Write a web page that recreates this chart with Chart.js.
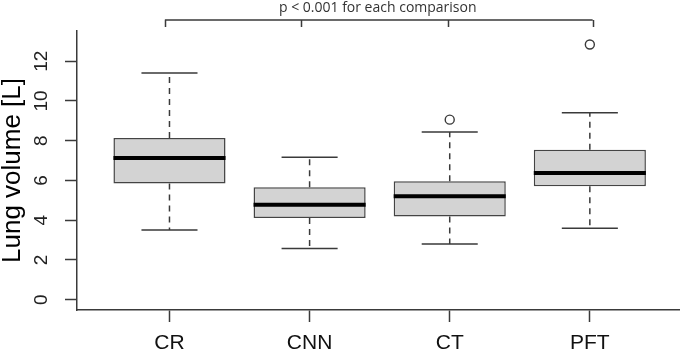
<!DOCTYPE html>
<html>
<head>
<meta charset="utf-8">
<script src="https://cdn.jsdelivr.net/npm/chart.js@4/dist/chart.umd.min.js"></script>
<style>
  html, body { margin: 0; padding: 0; background: #fff; }
  canvas { display: block; }
</style>
</head>
<body>
<canvas id="boxChart" width="685" height="352"></canvas>
<script>
// box plot values (litres)
const categories = ['CR', 'CNN', 'CT', 'PFT'];
const whiskerLow = [3.51, 2.57, 2.80, 3.59];
const lowerQuartile = [5.84, 4.11, 4.19, 5.71];
const medians = [7.13, 4.78, 5.20, 6.38];
const upperQuartile = [8.14, 5.66, 5.96, 7.54];
const whiskerHigh = [11.41, 7.17, 8.44, 9.40];
const outliers = [[], [], [9.06], [12.84]];
const yTicks = [0, 2, 4, 6, 8, 10, 12];
// significance bracket (x positions in category units)
const bracketTicks = [0.967, 1.936, 2.99, 4.02];
const bracketLabel = 'p < 0.001 for each comparison';

const lineColor = '#3a3a3a';

const boxData = categories.map((c, i) => ({ x: i + 1, y: [lowerQuartile[i], upperQuartile[i]] }));

const whiskerData = [];
const capData = [];
const medianData = [];
const outlierData = [];
categories.forEach((c, i) => {
  const x = i + 1;
  whiskerData.push({ x: x, y: upperQuartile[i] }, { x: x, y: whiskerHigh[i] }, { x: x, y: null });
  whiskerData.push({ x: x, y: lowerQuartile[i] }, { x: x, y: whiskerLow[i] }, { x: x, y: null });
  capData.push({ x: x - 0.2, y: whiskerHigh[i] }, { x: x + 0.2, y: whiskerHigh[i] }, { x: x, y: null });
  capData.push({ x: x - 0.2, y: whiskerLow[i] }, { x: x + 0.2, y: whiskerLow[i] }, { x: x, y: null });
  medianData.push({ x: x - 0.4, y: medians[i] }, { x: x + 0.4, y: medians[i] }, { x: x, y: null });
  outliers[i].forEach(v => outlierData.push({ x: x, y: v }));
});

// rotated y tick labels and the bracket above the plot
const extrasPlugin = {
  id: 'extras',
  afterDraw(chart) {
    const ctx = chart.ctx;
    const xs = chart.scales.x;
    const ys = chart.scales.y;
    const top = chart.chartArea.top;

    ctx.save();
    ctx.fillStyle = '#222';
    ctx.font = '19px "Liberation Sans", Arial, sans-serif';
    ctx.textAlign = 'center';
    ctx.textBaseline = 'middle';
    yTicks.forEach(t => {
      ctx.save();
      ctx.translate(42, ys.getPixelForValue(t));
      ctx.rotate(-Math.PI / 2);
      ctx.fillText(String(t), 0, 0);
      ctx.restore();
    });

    // bracket
    ctx.strokeStyle = lineColor;
    ctx.lineWidth = 1.5;
    const yLine = top - 11;
    const yEnd = top - 4;
    const first = xs.getPixelForValue(bracketTicks[0]);
    const last = xs.getPixelForValue(bracketTicks[bracketTicks.length - 1]);
    ctx.beginPath();
    ctx.moveTo(first, yLine);
    ctx.lineTo(last, yLine);
    bracketTicks.forEach(b => {
      const px = Math.round(xs.getPixelForValue(b)) + 0.5;
      ctx.moveTo(px, yLine);
      ctx.lineTo(px, yEnd);
    });
    ctx.stroke();

    ctx.fillStyle = '#333';
    ctx.font = '14px "Open Sans", sans-serif';
    ctx.fillText(bracketLabel, (first + last) / 2 - 1, 8);
    ctx.restore();
  }
};

new Chart(document.getElementById('boxChart'), {
  type: 'bar',
  data: {
    datasets: [
      {
        type: 'line',
        data: medianData,
        borderColor: '#000',
        borderWidth: 4,
        pointRadius: 0,
        spanGaps: false,
        order: 0
      },
      {
        type: 'scatter',
        data: outlierData,
        pointRadius: 4.5,
        pointBackgroundColor: '#fff',
        pointBorderColor: lineColor,
        pointBorderWidth: 1.4,
        order: 1
      },
      {
        type: 'line',
        data: capData,
        borderColor: lineColor,
        borderWidth: 1.5,
        pointRadius: 0,
        spanGaps: false,
        order: 2
      },
      {
        type: 'line',
        data: whiskerData,
        borderColor: lineColor,
        borderWidth: 1.5,
        borderDash: [6, 5],
        pointRadius: 0,
        spanGaps: false,
        order: 3
      },
      {
        type: 'bar',
        data: boxData,
        backgroundColor: '#d3d3d3',
        borderColor: '#444',
        borderWidth: 1.5,
        borderSkipped: false,
        barPercentage: 0.8,
        categoryPercentage: 1.0,
        order: 4
      }
    ]
  },
  options: {
    responsive: false,
    animation: false,
    layout: { padding: { top: 31, right: 0, bottom: 0, left: 0 } },
    plugins: {
      legend: { display: false },
      tooltip: { enabled: false }
    },
    scales: {
      x: {
        type: 'linear',
        min: 0.34,
        max: 4.637,
        offset: false,
        afterFit(scale) { scale.height = 42; },
        afterBuildTicks(scale) {
          scale.ticks = categories.map((c, i) => ({ value: i + 1 }));
        },
        border: { display: true, color: lineColor, width: 1.5 },
        grid: { offset: false, drawOnChartArea: false, drawTicks: true, tickLength: 12, tickColor: lineColor, tickWidth: 1.5 },
        ticks: {
          autoSkip: false,
          maxRotation: 0,
          padding: 9,
          color: '#111',
          font: { family: '"Liberation Sans", Arial, sans-serif', size: 21 },
          callback: (v) => categories[Math.round(v) - 1]
        }
      },
      y: {
        type: 'linear',
        min: -0.52,
        max: 13.52,
        afterFit(scale) { scale.width = 77; },
        afterBuildTicks(scale) {
          scale.ticks = yTicks.map(v => ({ value: v }));
        },
        border: { display: true, color: lineColor, width: 1.5 },
        grid: { drawOnChartArea: false, drawTicks: true, tickLength: 12, tickColor: lineColor, tickWidth: 1.5 },
        ticks: { display: false },
        title: {
          display: true,
          text: 'Lung volume [L]',
          color: '#000',
          padding: 0,
          font: { family: '"Liberation Sans", Arial, sans-serif', size: 26, lineHeight: 1.0 }
        }
      }
    }
  },
  plugins: [extrasPlugin]
});
</script>
</body>
</html>
